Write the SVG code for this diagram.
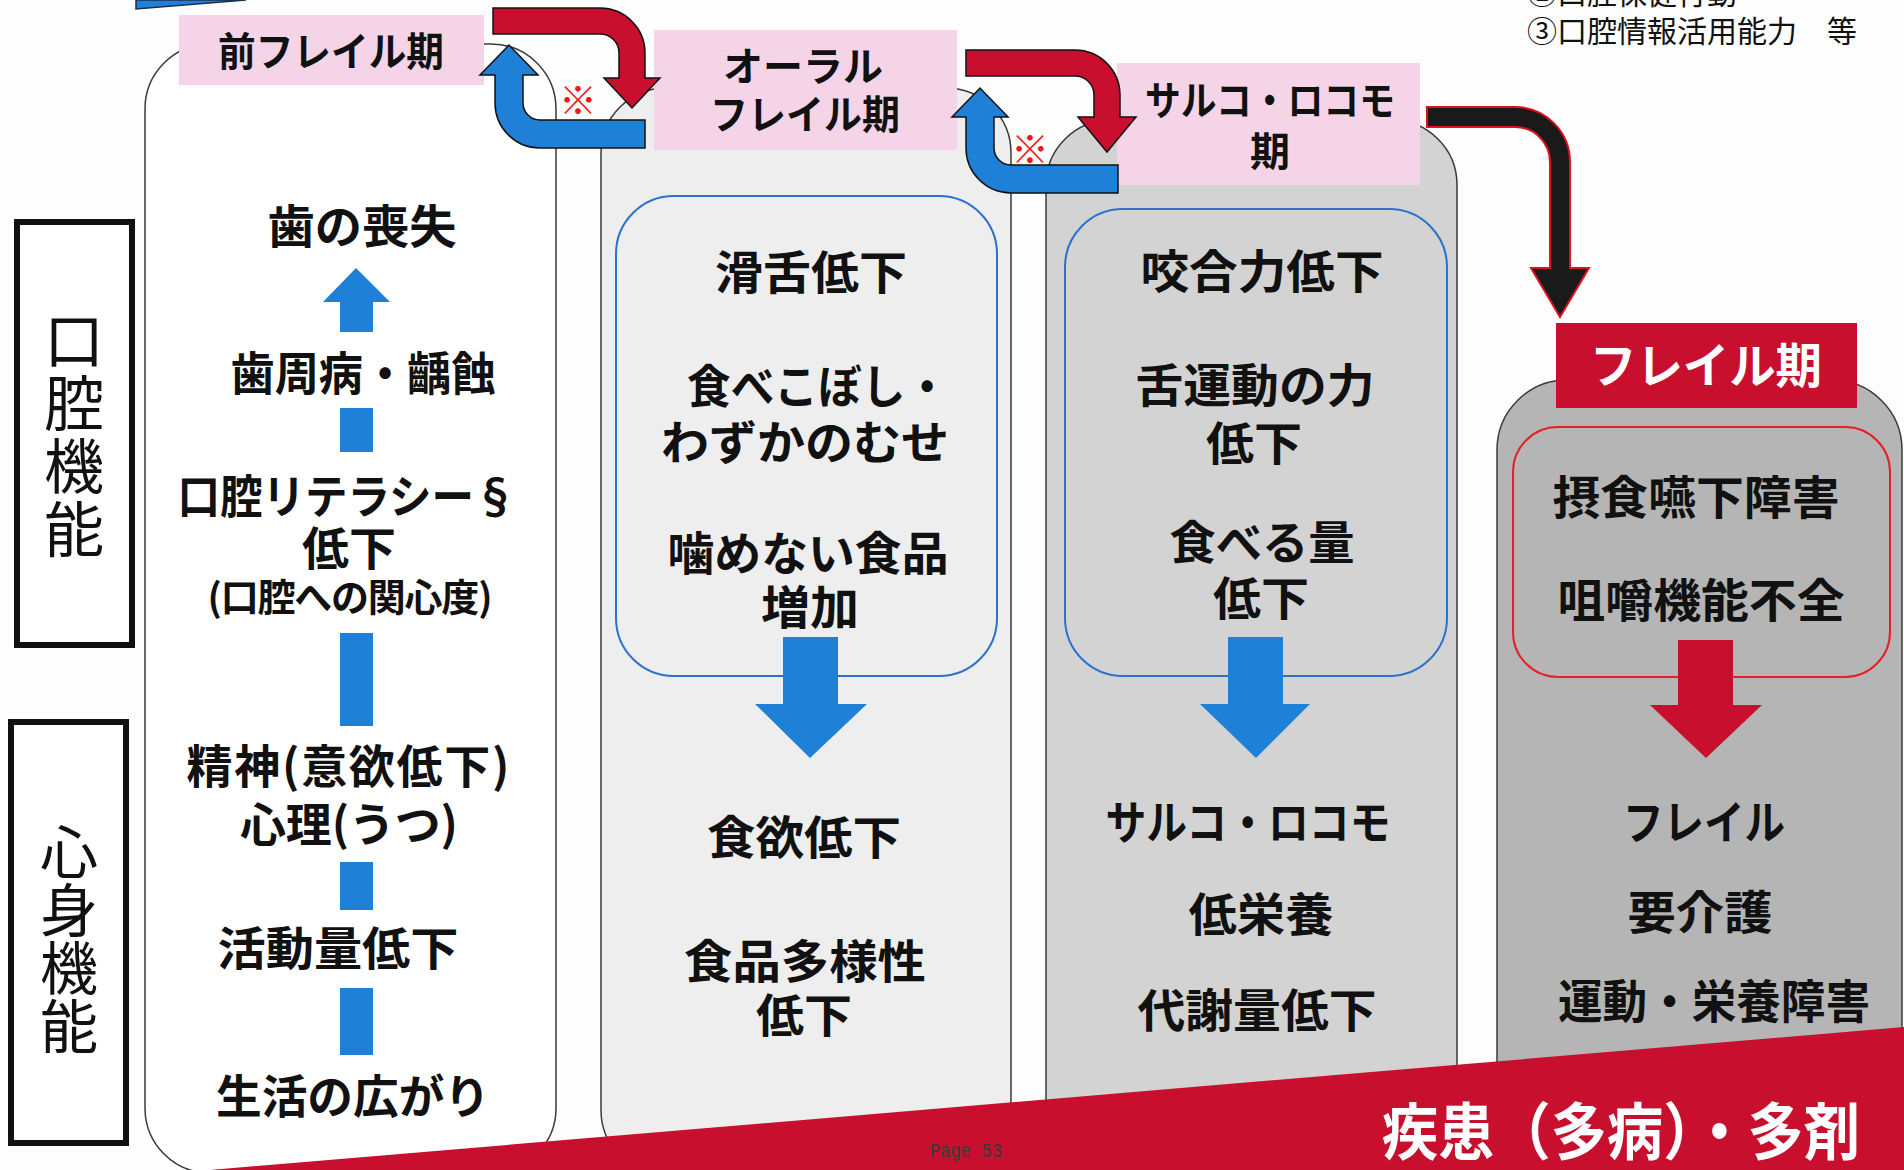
<svg xmlns="http://www.w3.org/2000/svg" width="1904" height="1170" viewBox="0 0 1904 1170">
<style>
.t{font-family:"Noto Sans CJK JP","Liberation Sans",sans-serif;font-weight:700;font-size:46px;fill:#111;text-anchor:middle}
.pk{font-size:40px}
.lbl{font-family:"Noto Sans CJK JP","Liberation Sans",sans-serif;font-weight:400;font-size:60px;fill:#111;text-anchor:middle;writing-mode:vertical-rl}
.note{font-family:"Noto Sans CJK JP","Liberation Sans",sans-serif;font-weight:400;font-size:30px;fill:#111}
.col{stroke:#3a3a3a;stroke-width:1.5}
.pink{fill:#f5d4e8}
.blue{fill:#1e80d6}
.red{fill:#c8102e}
.bbox{fill:none;stroke:#2a72cc;stroke-width:2}
.rbox{fill:none;stroke:#e4202a;stroke-width:2}
.lbox{fill:#fff;stroke:#111;stroke-width:6}
.mark{font-family:"Noto Sans CJK JP",sans-serif;font-size:38px;fill:#f01818;text-anchor:middle;font-weight:700}
</style>
<rect width="1904" height="1170" fill="#fdfdfd"/>

<!-- top fragments -->
<polygon points="136,0 246,0 136,9" fill="#1e80d6" stroke="#1a3050" stroke-width="1.5"/>
<text class="note" x="1527" y="4">②口腔保健行動</text>
<text class="note" x="1527" y="42">③口腔情報活用能力　等</text>

<!-- columns -->
<g id="col1"><rect class="col" x="145" y="44" width="411" height="1129" rx="65" fill="#ffffff"/></g>
<g id="col2"><rect class="col" x="601" y="88" width="410" height="1087" rx="65" fill="#eeeeee"/></g>
<g id="col3"><rect class="col" x="1046" y="120" width="411" height="1055" rx="65" fill="#d3d3d3"/></g>
<g id="col4"><rect class="col" x="1497" y="380" width="405" height="820" rx="70" fill="#b5b5b5"/></g>

<!-- side labels -->
<g id="label-oral">
<rect class="lbox" x="17" y="222" width="115" height="423"/>
<text class="lbl" x="74" y="436" letter-spacing="3">口腔機能</text>
</g>
<g id="label-body">
<rect class="lbox" x="11" y="722" width="115" height="421"/>
<text class="lbl" x="69" y="939" style="font-size:58px">心身機能</text>
</g>

<!-- stage headers -->
<g id="stage-pre">
<rect class="pink" x="179" y="15" width="305" height="70"/>
<text class="t pk" x="331" y="66" textLength="226" lengthAdjust="spacingAndGlyphs">前フレイル期</text>
</g>
<g id="stage-oral">
<rect class="pink" x="654" y="30" width="303" height="120"/>
<text class="t pk" x="803" y="81" textLength="160" lengthAdjust="spacingAndGlyphs">オーラル</text>
<text class="t pk" x="805" y="129" textLength="190" lengthAdjust="spacingAndGlyphs">フレイル期</text>
</g>
<g id="stage-sarco">
<rect class="pink" x="1117" y="63" width="303" height="122"/>
<text class="t pk" x="1270" y="115" textLength="250" lengthAdjust="spacingAndGlyphs">サルコ・ロコモ</text>
<text class="t pk" x="1270" y="166">期</text>
</g>
<g id="stage-frail">
<rect class="red" x="1556" y="323" width="301" height="85"/>
<text class="t" x="1706" y="383" style="fill:#fff;font-size:48px" textLength="232" lengthAdjust="spacingAndGlyphs">フレイル期</text>
</g>

<!-- column 1 contents -->
<g id="col1-items">
<text class="t" x="362" y="243" textLength="189" lengthAdjust="spacingAndGlyphs">歯の喪失</text>
<text class="t" x="363" y="390" textLength="265" lengthAdjust="spacingAndGlyphs">歯周病・齲蝕</text>
<text class="t" x="347" y="513" textLength="339" lengthAdjust="spacingAndGlyphs">口腔リテラシー§</text>
<text class="t" x="349" y="565" textLength="94" lengthAdjust="spacingAndGlyphs">低下</text>
<text class="t" x="350" y="611" style="font-size:38px" textLength="285" lengthAdjust="spacing">(口腔への関心度)</text>
<text class="t" x="348" y="783" textLength="323" lengthAdjust="spacing">精神(意欲低下)</text>
<text class="t" x="349" y="841" textLength="218" lengthAdjust="spacing">心理(うつ)</text>
<text class="t" x="338" y="965" textLength="241" lengthAdjust="spacingAndGlyphs">活動量低下</text>
<text class="t" x="353" y="1113" textLength="274" lengthAdjust="spacingAndGlyphs">生活の広がり</text>
</g>

<!-- column 2 contents -->
<g id="col2-items">
<rect class="bbox" x="616" y="196" width="381" height="480" rx="58"/>
<text class="t" x="811" y="289" textLength="192" lengthAdjust="spacingAndGlyphs">滑舌低下</text>
<text class="t" x="818" y="403" textLength="262" lengthAdjust="spacingAndGlyphs">食べこぼし・</text>
<text class="t" x="805" y="459" textLength="288" lengthAdjust="spacingAndGlyphs">わずかのむせ</text>
<text class="t" x="808" y="570" textLength="281" lengthAdjust="spacingAndGlyphs">噛めない食品</text>
<text class="t" x="810" y="624" textLength="98" lengthAdjust="spacingAndGlyphs">増加</text>
<text class="t" x="804" y="854" textLength="194" lengthAdjust="spacingAndGlyphs">食欲低下</text>
<text class="t" x="805" y="978" textLength="242" lengthAdjust="spacingAndGlyphs">食品多様性</text>
<text class="t" x="804" y="1032" textLength="96" lengthAdjust="spacingAndGlyphs">低下</text>
</g>

<!-- column 3 contents -->
<g id="col3-items">
<rect class="bbox" x="1065" y="209" width="382" height="467" rx="58"/>
<text class="t" x="1262" y="288" textLength="243" lengthAdjust="spacingAndGlyphs">咬合力低下</text>
<text class="t" x="1255" y="402" textLength="239" lengthAdjust="spacingAndGlyphs">舌運動の力</text>
<text class="t" x="1254" y="460" textLength="96" lengthAdjust="spacingAndGlyphs">低下</text>
<text class="t" x="1262" y="559" textLength="185" lengthAdjust="spacingAndGlyphs">食べる量</text>
<text class="t" x="1261" y="615" textLength="96" lengthAdjust="spacingAndGlyphs">低下</text>
<text class="t" x="1248" y="839" textLength="285" lengthAdjust="spacingAndGlyphs">サルコ・ロコモ</text>
<text class="t" x="1261" y="931" textLength="145" lengthAdjust="spacingAndGlyphs">低栄養</text>
<text class="t" x="1257" y="1027" textLength="239" lengthAdjust="spacingAndGlyphs">代謝量低下</text>
</g>

<!-- column 4 contents -->
<g id="col4-items">
<rect class="rbox" x="1513" y="427" width="377" height="250" rx="45"/>
<text class="t" x="1696" y="514" textLength="287" lengthAdjust="spacingAndGlyphs">摂食嚥下障害</text>
<text class="t" x="1701" y="617" textLength="287" lengthAdjust="spacingAndGlyphs">咀嚼機能不全</text>
<text class="t" x="1704" y="839" textLength="162" lengthAdjust="spacingAndGlyphs">フレイル</text>
<text class="t" x="1700" y="929" textLength="145" lengthAdjust="spacingAndGlyphs">要介護</text>
<text class="t" x="1714" y="1018" textLength="312" lengthAdjust="spacingAndGlyphs">運動・栄養障害</text>
</g>

<!-- connectors -->
<g id="connectors">
<path class="blue" d="M340,332 V302 H323 L356,268 L390,302 H373 V332 Z"/>
<rect class="blue" x="340" y="408" width="33" height="44"/>
<rect class="blue" x="340" y="633" width="33" height="93"/>
<rect class="blue" x="340" y="862" width="33" height="48"/>
<rect class="blue" x="340" y="988" width="33" height="67"/>
<path class="blue" d="M783,637 H838 V704 H867 L810,758 L755,704 H783 Z"/>
<path class="blue" d="M1228,637 H1283 V704 H1310 L1256,758 L1200,704 H1228 Z"/>
<path class="red" d="M1678,640 H1733 V705 H1762 L1706,758 L1650,705 H1678 Z"/>

<path class="red" stroke="#111" stroke-width="1.5" d="M493,8 H600 A45,45 0 0 1 645,53 V78 H660 L632,108 L604,78 H619 V53 A19,19 0 0 0 600,34 H493 Z"/>
<path class="blue" stroke="#111" stroke-width="1.5" d="M645,120 H540 A17,17 0 0 1 523,103 V75 H538 L509,45 L480,75 H495 V103 A45,45 0 0 0 540,148 H645 Z"/>
<text class="mark" x="578" y="114">※</text>
<path class="red" stroke="#111" stroke-width="1.5" d="M966,50 H1075 A45,45 0 0 1 1120,95 V117 H1136 L1107,152 L1078,117 H1094 V95 A19,19 0 0 0 1075,76 H966 Z"/>
<path class="blue" stroke="#111" stroke-width="1.5" d="M1118,165 H1011 A17,17 0 0 1 994,148 V117 H1008 L980,88 L952,117 H966 V148 A45,45 0 0 0 1011,193 H1118 Z"/>
<text class="mark" x="1030" y="163">※</text>
<path fill="#1a1a1a" stroke="#e01020" stroke-width="2" d="M1427,107 H1515 A55,55 0 0 1 1570,162 V268 H1589 L1560,317 L1531,268 H1550 V162 A35,35 0 0 0 1515,127 H1427 Z"/>
</g>

<!-- bottom banner -->
<g id="banner">
<polygon class="red" points="210,1170 1904,1027 1904,1170"/>
<text class="t" x="1621" y="1155" style="fill:#fff;font-size:62px" textLength="478" lengthAdjust="spacingAndGlyphs">疾患（多病）・多剤</text>
<text x="966" y="1157" font-family="Liberation Mono, monospace" font-size="20" fill="#3a3a3a" text-anchor="middle" textLength="72" lengthAdjust="spacingAndGlyphs">Page 53</text>
</g>
</svg>
